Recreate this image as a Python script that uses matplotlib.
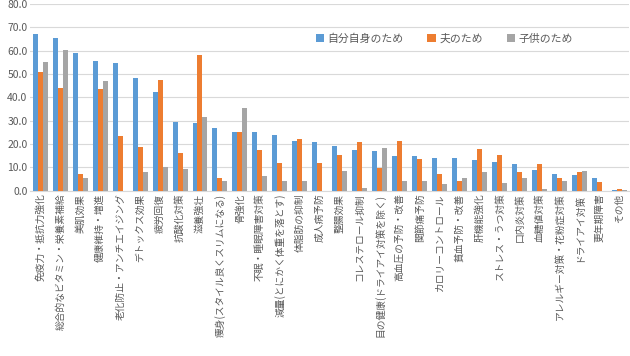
import matplotlib
matplotlib.use("Agg")
import matplotlib.pyplot as plt
import numpy as np

plt.rcParams['font.family'] = ['Noto Sans CJK JP', 'DejaVu Sans']

categories = [
    "免疫力・抵抗力強化", "総合的なビタミン・栄養素補給", "美肌効果", "健康維持・増進",
    "老化防止・アンチエイジング", "デトックス効果", "疲労回復", "抗酸化対策", "滋養強壮",
    "痩身(スタイル良くスリムになる)", "骨強化", "不眠・睡眠障害対策",
    "減量(とにかく体重を落とす)", "体脂肪の抑制", "成人病予防", "整腸効果",
    "コレステロール抑制", "目の健康(ドライアイ対策を除く)", "高血圧の予防・改善",
    "関節痛予防", "カロリーコントロール", "貧血予防・改善", "肝機能強化",
    "ストレス・うつ対策", "口内炎対策", "血糖値対策", "アレルギー対策・花粉症対策",
    "ドライアイ対策", "更年期障害", "その他",
]
self_vals = [67.0, 65.2, 59.0, 55.4, 54.6, 48.2, 42.3, 29.6, 28.9, 26.7,
             25.3, 25.0, 23.9, 21.4, 20.7, 19.2, 17.4, 17.1, 14.9, 14.9,
             14.1, 14.1, 13.1, 12.4, 11.3, 8.9, 7.1, 6.7, 5.3, 0.5]
husband_vals = [51.0, 43.9, 7.1, 43.6, 23.4, 18.9, 47.3, 16.2, 58.2, 5.3,
                25.3, 17.4, 12.0, 22.0, 12.0, 15.3, 20.7, 9.9, 21.4, 13.6,
                7.1, 4.2, 17.7, 15.3, 8.1, 11.3, 5.3, 7.9, 3.6, 0.6]
child_vals = [55.2, 60.3, 5.6, 47.0, 0.0, 8.0, 10.3, 9.3, 31.4, 4.2,
              35.3, 6.4, 4.2, 4.2, 0.0, 8.4, 1.4, 18.4, 4.3, 4.2,
              2.9, 5.3, 7.9, 3.4, 5.3, 0.7, 4.2, 8.6, 0.0, 0.5]
series_names = ["自分自身のため", "夫のため", "子供のため"]
colors = ["#5B9BD5", "#ED7D31", "#A5A5A5"]
yticks = [0, 10, 20, 30, 40, 50, 60, 70, 80]

fig = plt.figure(figsize=(6.3, 3.56), dpi=100)
ax = fig.add_axes([0.048, 0.464, 0.951, 0.525])

x = np.arange(len(categories))
w = 0.25
for i, (vals, name, c) in enumerate(zip([self_vals, husband_vals, child_vals], series_names, colors)):
    ax.bar(x + (i - 1) * w, vals, width=w, color=c, label=name, zorder=3)

ax.set_xlim(-0.5, len(categories) - 0.5)
ax.set_ylim(0, 80)
ax.set_yticks(yticks)
ax.set_yticklabels([f"{v:.1f}" for v in yticks], fontsize=7.5, color="#595959")
ax.yaxis.grid(True, color="#D9D9D9", linewidth=0.8, zorder=0)
ax.set_xticks(x)
ax.set_xticklabels(categories, rotation=90, fontsize=7, color="#595959")
ax.tick_params(axis='both', length=0, pad=2)
for s in ["top", "right", "left"]:
    ax.spines[s].set_visible(False)
ax.spines["bottom"].set_color("#D9D9D9")

ax.legend(loc="upper left", bbox_to_anchor=(0.46, 0.895), ncol=3, frameon=False,
          fontsize=7.8, handlelength=0.8, handleheight=0.8, handletextpad=0.3,
          columnspacing=2.2, labelcolor="#595959")

fig.savefig("out.png", dpi=100)
